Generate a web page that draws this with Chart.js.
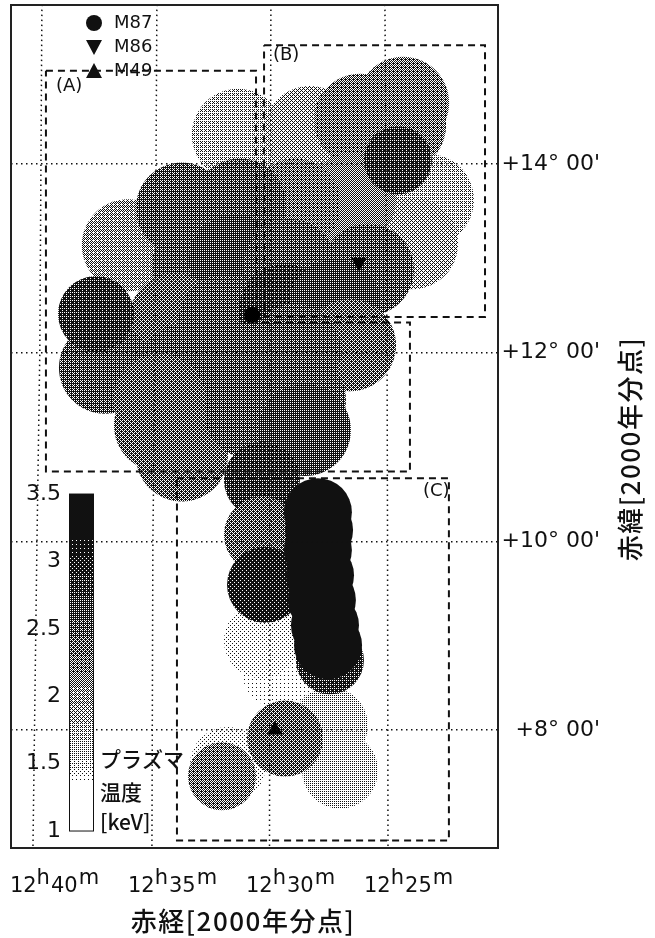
<!DOCTYPE html>
<html>
<head>
<meta charset="utf-8">
<title>プラズマ温度</title>
<script src="https://cdn.jsdelivr.net/npm/chart.js@4/dist/chart.umd.js"></script>
<style>
html, body { margin: 0; padding: 0; background: #fff; }
canvas { display: block; }
</style>
</head>
<body>
<canvas id="tempMap" width="655" height="938"></canvas>
<script>
// pointings: right ascension (minutes past 12h), declination (deg), plasma temperature (keV)
const largeRa = [31.36, 28.31, 26.19, 24.36, 24.49, 23.31, 23.98, 26.61, 28.94, 36.02,
    33.73, 31.27, 33.05, 31.48, 29.15, 34.03, 31.91, 29.36, 25.85, 27.25,
    26.61, 28.94, 31.27, 33.6, 36.99, 34.66, 34.66, 33.73, 30.85, 28.73, 28.52];
const largeDec = [14.31, 14.34, 14.47, 14.65, 14.41, 13.62, 13.16, 13.62, 13.57, 13.14,
    13.53, 13.57, 12.93, 12.98, 12.93, 12.35, 12.35, 12.45, 12.88, 12.5,
    12.08, 12.03, 11.82, 11.82, 11.84, 11.5, 11.23, 10.91, 11.37, 11.5, 11.18];
const largeKt = [1.75, 1.9, 2.25, 2.25, 2.25, 1.75, 1.9, 2.15, 2.3, 1.95,
    2.5, 2.5, 2.45, 2.6, 2.5, 2.35, 2.5, 2.75, 2.5, 2.7,
    2.35, 2.55, 2.55, 2.45, 2.45, 2.4, 2.4, 2.35, 2.45, 2.55, 2.6];

const mediumRa = [29.58, 30.34, 27.46, 27.03, 31.78, 29.36, 30.34, 30.34, 30.21, 37.37];
const mediumDec = [8.63, 8.95, 8.05, 7.57, 7.63, 7.91, 10.65, 10.07, 9.54, 12.41];
const mediumKt = [1.4, 1.45, 1.58, 1.58, 1.45, 2.4, 2.75, 2.4, 2.95, 2.8];

const smallRa = [24.58, 32.03, 27.46, 27.54, 27.67, 27.8, 27.88, 27.97, 27.92, 27.97];
const smallDec = [14.04, 7.51, 8.74, 8.9, 9.11, 9.38, 9.64, 9.91, 10.12, 10.31];
const smallKt = [2.8, 2.3, 2.75, 3.3, 3.3, 3.3, 3.3, 3.3, 3.3, 3.3];

const galaxyNames = ['M87', 'M86', 'M49'];
const galaxyRa = [30.76, 26.23, 29.79];
const galaxyDec = [12.4, 12.96, 8.0];

// survey boxes
const boxARa = [39.49, 30.59, 30.59, 24.07, 24.07, 39.49, 39.49];
const boxADec = [14.99, 14.99, 12.32, 12.32, 10.74, 10.74, 14.99];
const boxBRa = [30.25, 20.89, 20.89, 30.25, 30.25];
const boxBDec = [15.26, 15.26, 12.38, 12.38, 15.26];
const boxCRa = [33.94, 22.42, 22.42, 33.94, 33.94];
const boxCDec = [10.67, 10.67, 6.83, 6.83, 10.67];

// right ascension lines bend a little towards the north
const raGridDec = [15.69, 12, 10, 6.75];
const raGrid40 = [39.66, 39.75, 39.87, 40.04];
const raGrid35 = [34.79, 34.87, 34.96, 35.0];
const raGrid30 = [29.96, 30, 30, 30.02];
const raGrid25 = [25.13, 25.04, 25.02, 25.0];

const raTicks = [40, 35, 30, 25];
const decTicks = [14, 12, 10, 8];
const barTicks = [3.5, 3, 2.5, 2, 1.5, 1];
const barLabels = ['3.5', '3', '2.5', '2', '1.5', '1'];

const keVStops = [1, 1.37, 1.5, 1.75, 2, 2.25, 2.5, 2.75, 3, 3.2, 3.5];
const grayStops = [255, 250, 205, 175, 145, 110, 80, 55, 30, 5, 0];

const latin = '"DejaVu Sans"';
const cjk = '"Noto Sans CJK JP"';

function keVToGray(kt) {
    for (let i = 1; i < keVStops.length; i++) {
        if (kt <= keVStops[i]) {
            const f = (kt - keVStops[i - 1]) / (keVStops[i] - keVStops[i - 1]);
            return grayStops[i - 1] + f * (grayStops[i] - grayStops[i - 1]);
        }
    }
    return 0;
}

// the printed figure is a halftone, so fill with small ordered dither tiles
const bayer = [0, 8, 2, 10, 12, 4, 14, 6, 3, 11, 1, 9, 15, 7, 13, 5];
const tileCache = {};

function keVToFill(kt) {
    const level = Math.round(keVToGray(kt) / 255 * 16);
    if (tileCache[level]) return tileCache[level];
    const tile = document.createElement('canvas');
    tile.width = 4;
    tile.height = 4;
    const tctx = tile.getContext('2d');
    bayer.forEach((b, i) => {
        tctx.fillStyle = b < level ? '#fff' : '#111';
        tctx.fillRect(i % 4, Math.floor(i / 4), 1, 1);
    });
    tileCache[level] = tctx.createPattern(tile, 'repeat');
    return tileCache[level];
}

function zipXY(xs, ys) {
    return xs.map((x, i) => ({ x: x, y: ys[i] }));
}

function fieldSet(ra, dec, kt, radius, order) {
    return {
        data: zipXY(ra, dec),
        pointRadius: radius,
        pointBorderWidth: 0,
        pointBackgroundColor: kt.map(keVToFill),
        showLine: false,
        order: order
    };
}

function dashLine(ra, dec, dash, width) {
    return {
        data: zipXY(ra, dec),
        showLine: true,
        borderColor: '#111',
        borderWidth: width,
        borderDash: dash,
        pointRadius: 0,
        order: 1
    };
}

function marker(i, style, rotation, radius) {
    return {
        data: [{ x: galaxyRa[i], y: galaxyDec[i] }],
        showLine: false,
        pointStyle: style,
        pointRotation: rotation,
        pointRadius: radius,
        pointBorderWidth: 0,
        pointBackgroundColor: '#000',
        order: 0
    };
}

function legendMark(ctx, i, x, y) {
    ctx.beginPath();
    if (i === 0) {
        ctx.arc(x, y, 8, 0, Math.PI * 2);
    } else if (i === 1) {
        ctx.moveTo(x - 8, y - 7); ctx.lineTo(x + 8, y - 7); ctx.lineTo(x, y + 8);
    } else {
        ctx.moveTo(x - 8, y + 7); ctx.lineTo(x + 8, y + 7); ctx.lineTo(x, y - 8);
    }
    ctx.closePath();
    ctx.fill();
}

const decorations = {
    id: 'decorations',
    afterDraw(chart) {
        const ctx = chart.ctx;
        const area = chart.chartArea;
        const xs = chart.scales.x;
        const bar = chart.scales.yKeV;
        ctx.save();

        // frame
        ctx.strokeStyle = '#222';
        ctx.lineWidth = 2;
        ctx.strokeRect(area.left, area.top, area.right - area.left, area.bottom - area.top);

        // colour bar
        const top = bar.getPixelForValue(3.5);
        const bottom = bar.getPixelForValue(1);
        for (let y = Math.floor(top); y < bottom; y++) {
            ctx.fillStyle = keVToFill(bar.getValueForPixel(y));
            ctx.fillRect(69, y, 25, 1);
        }
        ctx.strokeStyle = '#111';
        ctx.lineWidth = 1;
        ctx.strokeRect(69.5, top, 24, bottom - top);

        ctx.fillStyle = '#111';
        ctx.font = '22px ' + latin;
        ctx.textAlign = 'right';
        ctx.textBaseline = 'middle';
        barTicks.forEach((k, i) => ctx.fillText(barLabels[i], 61, bar.getPixelForValue(k)));

        ctx.textAlign = 'left';
        ctx.font = '500 21px ' + cjk;
        ctx.fillText('プラズマ', 100, 759);
        ctx.fillText('温度', 100, 792);
        ctx.fillText('[keV]', 100, 822);

        // legend
        ctx.font = '18px ' + latin;
        galaxyNames.forEach((name, i) => {
            const y = 23 + i * 24;
            legendMark(ctx, i, 94, y);
            ctx.fillText(name, 114, y);
        });

        // box names
        ctx.fillText('(A)', 56, 86);
        ctx.fillText('(B)', 273, 55);
        ctx.fillText('(C)', 423, 491);

        // right ascension labels
        ctx.textBaseline = 'alphabetic';
        raTicks.forEach(ra => {
            let x = xs.getPixelForValue(ra) - 24;
            ctx.font = '21px ' + latin;
            ctx.fillText('12', x, 892);
            x += ctx.measureText('12').width;
            ctx.fillText('h', x, 884);
            x += ctx.measureText('h').width + 1;
            ctx.fillText(String(ra), x, 892);
            x += ctx.measureText(String(ra)).width + 1;
            ctx.fillText('m', x, 884);
        });

        // axis titles
        ctx.font = '500 26px ' + cjk;
        ctx.letterSpacing = '1.5px';
        ctx.textAlign = 'center';
        ctx.textBaseline = 'middle';
        ctx.fillText('赤経[2000年分点]', 243, 921);
        ctx.translate(630, 449);
        ctx.rotate(-Math.PI / 2);
        ctx.fillText('赤緯[2000年分点]', 0, 0);
        ctx.restore();
    }
};

new Chart(document.getElementById('tempMap').getContext('2d'), {
    type: 'scatter',
    data: {
        datasets: [
            fieldSet(largeRa, largeDec, largeKt, 46, 12),
            fieldSet(mediumRa, mediumDec, mediumKt, 38, 11),
            fieldSet(smallRa, smallDec, smallKt, 34, 10),
            dashLine(raGrid40, raGridDec, [1.5, 3.5], 1.5),
            dashLine(raGrid35, raGridDec, [1.5, 3.5], 1.5),
            dashLine(raGrid30, raGridDec, [1.5, 3.5], 1.5),
            dashLine(raGrid25, raGridDec, [1.5, 3.5], 1.5),
            dashLine(boxARa, boxADec, [7, 5], 2),
            dashLine(boxBRa, boxBDec, [7, 5], 2),
            dashLine(boxCRa, boxCDec, [7, 5], 2),
            marker(0, 'circle', 0, 8),
            marker(1, 'triangle', 180, 9),
            marker(2, 'triangle', 0, 9)
        ]
    },
    options: {
        responsive: false,
        animation: false,
        layout: { autoPadding: false, padding: { left: 11, top: 5, right: 55, bottom: 90 } },
        plugins: { legend: { display: false }, tooltip: { enabled: false } },
        scales: {
            x: {
                type: 'linear',
                display: false,
                reverse: true,
                min: 20.34,
                max: 40.97
            },
            y: {
                type: 'linear',
                position: 'right',
                min: 6.75,
                max: 15.686,
                afterFit(scale) {
                    scale.width = 102;
                    scale.paddingTop = 0;
                    scale.paddingBottom = 0;
                },
                afterBuildTicks(scale) { scale.ticks = decTicks.map(v => ({ value: v })); },
                border: { display: false, dash: [1.5, 3.5] },
                grid: { color: '#111', lineWidth: 1.5, drawTicks: false, z: 1 },
                ticks: {
                    color: '#111',
                    font: { family: latin, size: 22 },
                    padding: 3,
                    crossAlign: 'far',
                    callback: v => `+${v}° 00'`
                }
            },
            yKeV: {
                type: 'linear',
                display: false,
                min: 0.874,
                max: 7.128
            }
        }
    },
    plugins: [decorations]
});
</script>
</body>
</html>
